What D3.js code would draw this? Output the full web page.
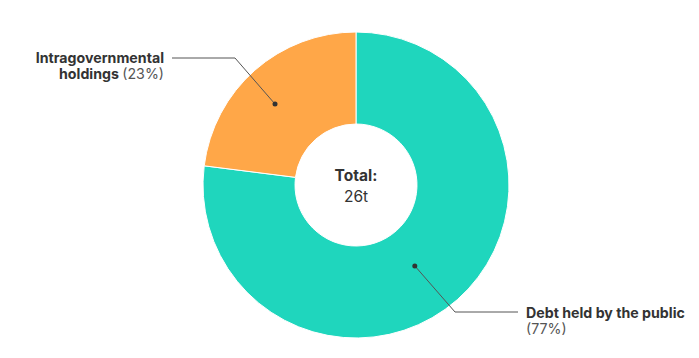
<!DOCTYPE html>
<html><head><meta charset="utf-8">
<script src="https://cdn.jsdelivr.net/npm/d3@7"></script>
<style>
body{margin:0;background:#fff;}
text{font-family:Inter,"Noto Sans",sans-serif;}
</style></head>
<body><svg id="c" width="699" height="358"></svg>
<script>
const categories = ["Debt held by the public", "Intragovernmental holdings"];
const shares = [77, 23];
const colors = ["#1fd6bd", "#ffa748"];
const totalLabel = "Total:";
const totalValue = "26t";

const svg = d3.select("#c");
const cx = 356, cy = 185, rOuter = 153, rInner = 61;
const g = svg.append("g").attr("transform", `translate(${cx},${cy})`);
const data = categories.map((c, i) => ({name: c, value: shares[i], color: colors[i]}));
const pie = d3.pie().sort(null).value(d => d.value);
const arc = d3.arc().innerRadius(rInner).outerRadius(rOuter);
const arcs = pie(data);
g.selectAll("path").data(arcs).join("path")
  .attr("d", arc).attr("fill", d => d.data.color)
  .attr("stroke", "#fff").attr("stroke-width", 1);

// dots & leader lines (anchor point near each slice's middle)
const leaders = [
  {rot: 0.094, r: 100, elbow: [99, 127], end: 162},
  {rot: -0.063, r: 114.5, elbow: [-121, -127], end: -184}
];
arcs.forEach((a, i) => {
  const L = leaders[i];
  const mid = (a.startAngle + a.endAngle) / 2 + L.rot;
  const [x, y] = d3.pointRadial(mid, L.r);
  g.append("path")
    .attr("d", `M${x},${y}L${L.elbow[0]},${L.elbow[1]}L${L.end},${L.elbow[1]}`)
    .attr("fill", "none").attr("stroke", "#555").attr("stroke-width", 1);
  g.append("circle").attr("cx", x).attr("cy", y).attr("r", 2.5).attr("fill", "#333");
});

// labels
const fs = 14.2;
svg.append("text").attr("x", 526).attr("y", 318).attr("font-size", fs).attr("fill", "#333")
  .attr("font-weight", 700).text(categories[0]);
svg.append("text").attr("x", 526).attr("y", 334).attr("font-size", fs).attr("fill", "#555").text(`(${shares[0]}%)`);

const words = categories[1].split(" ");
svg.append("text").attr("x", 164).attr("y", 63).attr("font-size", fs).attr("fill", "#333")
  .attr("text-anchor", "end").attr("font-weight", 700).text(words[0]);
const t1 = svg.append("text").attr("x", 164).attr("y", 79).attr("font-size", fs).attr("fill", "#333").attr("text-anchor", "end");
t1.append("tspan").attr("font-weight", 700).text(words[1] + " ");
t1.append("tspan").attr("fill", "#555").text(`(${shares[1]}%)`);

// center
g.append("text").attr("y", -4).attr("text-anchor", "middle").attr("font-size", 15.5)
  .attr("font-weight", 700).attr("fill", "#333").text(totalLabel);
g.append("text").attr("y", 17).attr("text-anchor", "middle").attr("font-size", 15.5)
  .attr("fill", "#333").text(totalValue);
</script></body></html>
